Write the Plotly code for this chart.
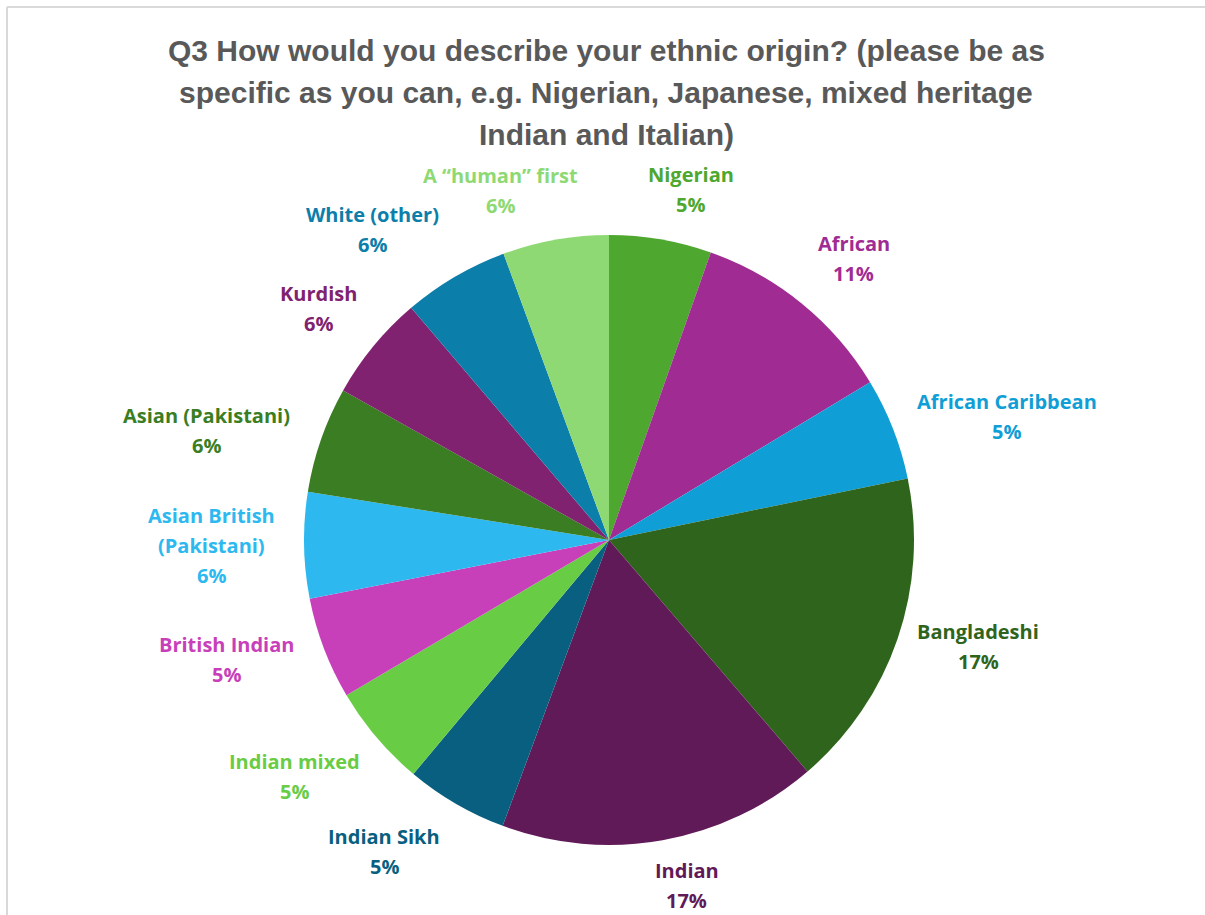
import math
import plotly.graph_objects as go

# ---- data ----
categories = ["Nigerian", "African", "African Caribbean", "Bangladeshi", "Indian",
              "Indian Sikh", "Indian mixed", "British Indian", "Asian British<br>(Pakistani)",
              "Asian (Pakistani)", "Kurdish", "White (other)", "A \u201chuman\u201d first"]
values = [5.4, 10.9, 5.4, 16.9, 16.9, 5.4, 5.4, 5.4, 5.6, 5.6, 5.6, 5.6, 5.6]
colors = ["#4EA72E", "#A02B93", "#0F9ED5", "#2F641C", "#601A58", "#095F80", "#69CC45",
          "#C83FBA", "#2DB9F0", "#3B7D23", "#80226F", "#0C7EAA", "#8ED973"]
title_lines = ["Q3 How would you describe your ethnic origin? (please be as",
               "specific as you can, e.g. Nigerian, Japanese, mixed heritage",
               "Indian and Italian)"]

# ---- layout constants ----
W, H = 1205, 915
CX, CY, R = 609, 540, 305
GAP = 20
FS = 20
LINE = 30
LABEL_FONT = "Open Sans"

fig = go.Figure(go.Pie(
    labels=categories, values=values, sort=False, direction="clockwise", rotation=0,
    marker=dict(colors=colors, line=dict(width=0)),
    textinfo="none", hoverinfo="label+percent", showlegend=False,
    domain=dict(x=[(CX - R) / W, (CX + R) / W], y=[(H - CY - R) / H, (H - CY + R) / H]),
))


def sgn(v):
    return 1 if v > 0 else (-1 if v < 0 else 0)


total = sum(values)
cum = 0.0
annotations = []
for lab, v, col in zip(categories, values, colors):
    mid = (cum + v / 2) / total * 2 * math.pi
    cum += v
    ux, uy = math.sin(mid), -math.cos(mid)  # screen coords, y down
    pct = round(v / total * 100)
    lines = lab.split("<br>") + [f"{pct}%"]
    n = len(lines)
    a = max(len(s) for s in lines) * 0.56 * FS / 2
    b = n * LINE / 2
    px = CX + (R + GAP) * ux
    py = CY + (R + GAP) * uy
    gx = min(1.0, 3.5 * abs(ux))
    gy = min(1.0, max(0.0, (abs(uy) - 0.3) / 0.4))
    cx = px + a * sgn(ux) * gx
    cy = py + b * sgn(uy) * gy
    # keep the label block inside the figure
    cy = min(cy, H - 15 - (n - 1) / 2 * LINE)
    for i, s in enumerate(lines):
        ly = cy + (i - (n - 1) / 2) * LINE
        annotations.append(dict(
            x=cx / W, y=1 - ly / H, xref="paper", yref="paper",
            xanchor="center", yanchor="middle", align="center", showarrow=False,
            text=s,
            font=dict(family=LABEL_FONT, size=FS, color=col, weight="bold"),
        ))

for i, s in enumerate(title_lines):
    annotations.append(dict(
        x=606 / W, y=1 - (51 + 42 * i) / H, xref="paper", yref="paper",
        xanchor="center", yanchor="middle", align="center", showarrow=False,
        text=s,
        font=dict(family="Liberation Sans Narrow, Liberation Sans, Arial, sans-serif", size=30,
                  color="#595959", weight="bold"),
    ))

fig.update_layout(
    width=W, height=H,
    margin=dict(l=0, r=0, t=0, b=0),
    paper_bgcolor="white", plot_bgcolor="white",
    annotations=annotations,
    shapes=[
        dict(type="line", xref="paper", yref="paper", x0=7 / W, x1=1, y0=1 - 7 / H, y1=1 - 7 / H,
             line=dict(color="#D9D9D9", width=2)),
        dict(type="line", xref="paper", yref="paper", x0=7 / W, x1=7 / W, y0=0, y1=1 - 7 / H,
             line=dict(color="#D9D9D9", width=2)),
    ],
)

fig.write_html("out.html")
